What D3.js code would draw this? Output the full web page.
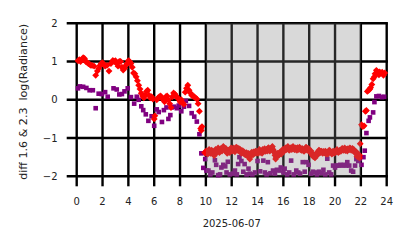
<!DOCTYPE html>
<html><head><meta charset="utf-8">
<script src="https://cdn.jsdelivr.net/npm/d3@7"></script>
<style>body{margin:0;background:#fff}svg{display:block}text{font-family:"DejaVu Sans",sans-serif}</style>
</head><body>
<svg id="c" width="414" height="248"></svg>
<script>
const xTicks = [0,2,4,6,8,10,12,14,16,18,20,22,24];
const yTicks = [2,1,0,-1,-2];
const xLabel = "2025-06-07";
const yLabel = "diff 1.6 & 2.3  log(Radiance)";
const shadeSpan = [10, 22];

const redDay = [[0.1,1.02],[0.2,1.05],[0.3,1.0],[0.4,1.05],[0.5,1.1],[0.6,1.08],[0.7,1.0],[0.8,0.98],[0.9,0.95],[1.0,0.93],[1.1,0.9],[1.2,0.9],[1.35,0.88],[1.47,0.64],[1.6,0.75],[1.7,0.82],[1.8,0.9],[1.9,0.95],[2.0,0.97],[2.1,0.92],[2.2,0.88],[2.35,0.9],[2.5,0.75],[2.65,0.95],[2.8,1.03],[2.9,1.0],[3.0,1.02],[3.1,0.95],[3.2,0.88],[3.3,1.0],[3.4,1.0],[3.5,0.85],[3.6,0.78],[3.7,0.82],[3.8,0.9],[3.9,0.95],[4.0,1.02],[4.1,1.0],[4.2,0.95],[4.3,0.85],[4.4,0.7],[4.5,0.68],[4.6,0.6],[4.7,0.5],[4.8,0.38],[4.9,0.28],[5.0,0.17],[5.1,0.1],[5.2,0.05],[5.3,0.12],[5.4,0.22],[5.5,0.25],[5.6,0.12],[5.7,0.05],[5.8,0.08],[5.9,0.02],[6.0,-0.5],[6.05,-0.42],[6.2,0.0],[6.3,0.05],[6.4,0.08],[6.5,0.1],[6.6,0.05],[6.7,0.0],[6.8,-0.05],[6.9,0.08],[7.0,0.1],[7.1,0.0],[7.2,-0.1],[7.3,-0.2],[7.4,0.08],[7.5,0.18],[7.6,0.15],[7.7,0.1],[7.8,0.05],[7.9,0.02],[8.0,-0.05],[8.1,0.0],[8.2,-0.08],[8.3,-0.12],[8.4,0.2],[8.5,0.3],[8.6,0.38],[8.7,0.25],[8.8,0.18],[8.9,0.12],[9.0,0.1],[9.1,0.08],[9.2,0.05],[9.3,0.02],[9.4,-0.1],[9.5,-0.3],[9.6,-0.75],[9.65,-0.8],[9.7,-0.7]];

const redShade = [[9.9,-1.38],[10.0,-1.4],[10.1,-1.38],[10.2,-1.35],[10.3,-1.33],[10.4,-1.36],[10.5,-1.4],[10.6,-1.43],[10.7,-1.38],[10.8,-1.33],[10.9,-1.3],[11.0,-1.32],[11.1,-1.35],[11.2,-1.3],[11.3,-1.27],[11.4,-1.25],[11.5,-1.3],[11.6,-1.34],[11.7,-1.38],[11.8,-1.35],[11.9,-1.3],[12.0,-1.28],[12.1,-1.3],[12.2,-1.33],[12.3,-1.28],[12.4,-1.25],[12.5,-1.3],[12.6,-1.35],[12.7,-1.32],[12.8,-1.37],[12.9,-1.4],[13.0,-1.38],[13.1,-1.42],[13.2,-1.45],[13.3,-1.4],[13.4,-1.55],[13.5,-1.45],[13.6,-1.4],[13.7,-1.36],[13.8,-1.38],[13.9,-1.4],[14.0,-1.36],[14.1,-1.34],[14.2,-1.38],[14.3,-1.35],[14.4,-1.3],[14.5,-1.32],[14.6,-1.35],[14.7,-1.3],[14.8,-1.28],[14.9,-1.32],[15.0,-1.3],[15.1,-1.25],[15.2,-1.3],[15.3,-1.38],[15.4,-1.55],[15.5,-1.45],[15.6,-1.4],[15.7,-1.42],[15.8,-1.38],[15.9,-1.35],[16.0,-1.32],[16.1,-1.3],[16.2,-1.27],[16.3,-1.25],[16.4,-1.28],[16.5,-1.3],[16.6,-1.26],[16.7,-1.24],[16.8,-1.27],[16.9,-1.3],[17.0,-1.28],[17.1,-1.25],[17.2,-1.3],[17.3,-1.27],[17.4,-1.32],[17.5,-1.3],[17.6,-1.35],[17.7,-1.28],[17.8,-1.25],[17.9,-1.3],[18.0,-1.33],[18.1,-1.38],[18.2,-1.42],[18.3,-1.48],[18.4,-1.5],[18.5,-1.45],[18.6,-1.4],[18.7,-1.35],[18.8,-1.33],[18.9,-1.36],[19.0,-1.38],[19.1,-1.35],[19.2,-1.38],[19.3,-1.42],[19.4,-1.38],[19.5,-1.35],[19.6,-1.33],[19.7,-1.38],[19.8,-1.4],[19.9,-1.36],[20.0,-1.35],[20.1,-1.33],[20.2,-1.35],[20.3,-1.36],[20.4,-1.32],[20.5,-1.3],[20.6,-1.28],[20.7,-1.3],[20.8,-1.33],[20.9,-1.3],[21.0,-1.28],[21.1,-1.3],[21.2,-1.27],[21.3,-1.3],[21.4,-1.33],[21.5,-1.35],[21.6,-1.4],[21.7,-1.48],[21.8,-1.5],[21.9,-1.45],[21.95,-1.15]];

const redShadeB = [[10.05,-1.33],[10.15,-1.42],[10.25,-1.3],[10.35,-1.4],[10.45,-1.32],[10.55,-1.36],[10.65,-1.46],[10.75,-1.3],[10.85,-1.38],[10.95,-1.26],[11.05,-1.38],[11.15,-1.28],[11.25,-1.34],[11.35,-1.22],[11.45,-1.32],[11.55,-1.27],[11.65,-1.4],[11.75,-1.32],[11.85,-1.38],[11.95,-1.26],[12.05,-1.34],[12.15,-1.26],[12.25,-1.36],[12.35,-1.24],[12.45,-1.32],[12.55,-1.27],[12.65,-1.3],[12.75,-1.4],[12.85,-1.33],[12.95,-1.36],[13.05,-1.44],[13.15,-1.38],[13.25,-1.48],[13.35,-1.5],[13.45,-1.42],[13.55,-1.37],[13.65,-1.44],[13.75,-1.4],[13.85,-1.34],[13.95,-1.37],[14.05,-1.4],[14.15,-1.3],[14.25,-1.34],[14.35,-1.4],[14.45,-1.34],[14.55,-1.28],[14.65,-1.32],[14.75,-1.34],[14.85,-1.25],[14.95,-1.34],[15.05,-1.27],[15.15,-1.22],[15.25,-1.34],[15.35,-1.45],[15.45,-1.5],[15.55,-1.4],[15.65,-1.45],[15.75,-1.36],[15.85,-1.42],[15.95,-1.3],[16.05,-1.35],[16.15,-1.26],[16.25,-1.3],[16.35,-1.22],[16.45,-1.32],[16.55,-1.26],[16.65,-1.3],[16.75,-1.22],[16.85,-1.3],[16.95,-1.26],[17.05,-1.32],[17.15,-1.28],[17.25,-1.24],[17.35,-1.3],[17.45,-1.27],[17.55,-1.33],[17.65,-1.3],[17.75,-1.24],[17.85,-1.32],[17.95,-1.27],[18.05,-1.36],[18.15,-1.34],[18.25,-1.45],[18.35,-1.44],[18.45,-1.52],[18.55,-1.4],[18.65,-1.44],[18.75,-1.32],[18.85,-1.38],[18.95,-1.34],[19.05,-1.4],[19.15,-1.38],[19.25,-1.34],[19.35,-1.38],[19.45,-1.42],[19.55,-1.32],[19.65,-1.36],[19.75,-1.42],[19.85,-1.34],[19.95,-1.4],[20.05,-1.37],[20.15,-1.3],[20.25,-1.38],[20.35,-1.33],[20.45,-1.35],[20.55,-1.27],[20.65,-1.32],[20.75,-1.26],[20.85,-1.3],[20.95,-1.34],[21.05,-1.3],[21.15,-1.26],[21.25,-1.32],[21.35,-1.27],[21.45,-1.3],[21.55,-1.38],[21.65,-1.36],[21.75,-1.44],[21.85,-1.47],[21.9,-1.52]];

const redLate = [[22.05,-0.65],[22.15,-0.7],[22.25,-0.68],[22.35,-0.3],[22.43,-0.28],[22.5,0.22],[22.6,0.25],[22.7,0.28],[22.75,0.32],[22.85,0.4],[22.95,0.55],[23.05,0.6],[23.1,0.68],[23.2,0.77],[23.3,0.72],[23.4,0.65],[23.45,0.73],[23.55,0.7],[23.65,0.72],[23.75,0.64],[23.85,0.7]];

const purpleDay = [[0.1,0.3],[0.25,0.35],[0.5,0.34],[0.75,0.31],[1.0,0.25],[1.25,0.25],[1.47,-0.22],[1.7,0.16],[1.95,0.15],[2.2,0.2],[2.4,0.08],[2.85,0.3],[3.1,0.27],[3.3,0.14],[3.5,0.15],[3.7,0.22],[3.95,0.3],[4.2,0.07],[4.45,-0.1],[4.65,0.08],[4.8,0.0],[5.0,-0.17],[5.15,-0.27],[5.35,-0.38],[5.55,-0.55],[5.8,-0.43],[6.0,-0.68],[6.2,-0.25],[6.35,-0.32],[6.6,-0.58],[6.75,-0.27],[6.95,-0.2],[7.1,-0.5],[7.25,-0.4],[7.35,-0.2],[7.55,-0.18],[7.75,-0.22],[7.9,-0.15],[8.1,-0.3],[8.3,-0.18],[8.45,-0.03],[8.7,-0.16],[8.9,-0.35],[9.1,-0.44],[9.3,-0.57],[9.5,-0.9]];

const purpleShade = [[9.65,-1.4],[9.8,-1.78],[9.95,-1.55],[10.05,-1.85],[10.2,-1.85],[10.35,-1.95],[10.5,-1.9],[10.7,-1.58],[10.8,-1.7],[10.95,-1.97],[11.1,-1.95],[11.2,-1.77],[11.35,-1.7],[11.5,-1.74],[11.6,-1.9],[11.7,-1.62],[11.85,-1.95],[12.1,-1.93],[12.25,-1.85],[12.4,-1.95],[12.5,-1.68],[12.6,-1.5],[12.75,-1.6],[12.9,-1.88],[13.0,-1.68],[13.15,-1.95],[13.3,-1.8],[13.4,-1.93],[13.6,-1.95],[13.8,-1.9],[14.0,-1.6],[14.2,-1.87],[14.45,-1.59],[14.57,-1.9],[14.7,-1.95],[14.8,-1.63],[15.0,-1.92],[15.2,-1.85],[15.35,-1.93],[15.5,-1.83],[15.7,-1.85],[15.8,-1.77],[16.0,-1.9],[16.1,-1.8],[16.3,-1.95],[16.45,-1.9],[16.6,-1.59],[16.8,-1.95],[17.0,-1.85],[17.15,-1.9],[17.3,-1.93],[17.5,-1.63],[17.65,-1.88],[17.8,-1.63],[17.95,-1.7],[18.15,-1.93],[18.3,-1.88],[18.45,-1.9],[18.6,-1.95],[18.75,-1.88],[18.95,-1.92],[19.1,-1.83],[19.25,-1.95],[19.4,-1.54],[19.55,-1.9],[19.7,-1.95],[19.85,-1.72],[20.0,-1.77],[20.15,-1.72],[20.25,-1.72],[20.4,-1.7],[20.55,-1.72],[20.7,-1.7],[20.85,-1.72],[20.95,-1.63],[21.1,-1.72],[21.25,-1.85],[21.4,-1.88],[21.55,-1.72],[21.65,-1.55],[21.8,-1.6],[21.9,-1.55]];

const purpleLate = [[22.05,-1.7],[22.2,-1.5],[22.3,-1.33],[22.43,-0.87],[22.6,-0.55],[22.7,-0.46],[22.95,-0.33],[23.05,-0.06],[23.2,0.09],[23.4,0.1],[23.63,0.07],[23.8,0.08]];

const svg = d3.select("#c");
const x = d3.scaleLinear().domain([0, 24]).range([76.7, 386.7]);
const y = d3.scaleLinear().domain([-2, 2]).range([176.3, 23.3]);

// grid lines
const g = svg.append("g");
g.selectAll(".vx").data(xTicks).join("line")
  .attr("x1", d => x(d)).attr("x2", d => x(d))
  .attr("y1", y(2)).attr("y2", y(-2) + 10)
  .attr("stroke", "#000").attr("stroke-width", 2.4);
g.selectAll(".hy").data(yTicks).join("line")
  .attr("y1", d => y(d)).attr("y2", d => y(d))
  .attr("x1", x(0) - 10).attr("x2", x(24) + 1.2)
  .attr("stroke", "#000").attr("stroke-width", 2.4);

const purple = [...purpleDay, ...purpleShade, ...purpleLate];
const red = [...redDay, ...redShade, ...redShadeB, ...redLate];

svg.append("g").selectAll("rect").data(purple).join("rect")
  .attr("x", d => x(d[0]) - 2.3).attr("y", d => y(d[1]) - 2.3)
  .attr("width", 4.6).attr("height", 4.6).attr("fill", "#800080");

const sym = d3.symbol().type(d3.symbolDiamond2).size(30);
svg.append("g").selectAll("path").data(red).join("path")
  .attr("transform", d => `translate(${x(d[0])},${y(d[1])})`)
  .attr("d", sym).attr("fill", "#ff0000");

// shaded span overlay
svg.append("rect")
  .attr("x", x(shadeSpan[0])).attr("width", x(shadeSpan[1]) - x(shadeSpan[0]))
  .attr("y", y(2)).attr("height", y(-2) - y(2))
  .attr("fill", "#808080").attr("fill-opacity", 0.3);

// tick labels
svg.append("g").selectAll("text").data(xTicks).join("text")
  .attr("x", d => x(d)).attr("y", 205).attr("text-anchor", "middle")
  .attr("font-size", 10).attr("fill", "#222").text(d => d);
svg.append("g").selectAll("text").data(yTicks).join("text")
  .attr("x", 57.5).attr("y", d => y(d) + 3.6).attr("text-anchor", "end")
  .attr("font-size", 10).attr("fill", "#222").text(d => d < 0 ? "\u2212" + Math.abs(d) : d);

svg.append("text").attr("x", (x(0) + x(24)) / 2).attr("y", 227)
  .attr("text-anchor", "middle").attr("font-size", 10).attr("fill", "#222").text(xLabel);
svg.append("text").attr("transform", `translate(27,${(y(2) + y(-2)) / 2 + 2}) rotate(-90)`)
  .attr("text-anchor", "middle").attr("font-size", 10).attr("fill", "#222")
  .attr("textLength", 156).attr("lengthAdjust", "spacingAndGlyphs")
  .style("white-space", "pre").text(yLabel);
</script>
</body></html>
